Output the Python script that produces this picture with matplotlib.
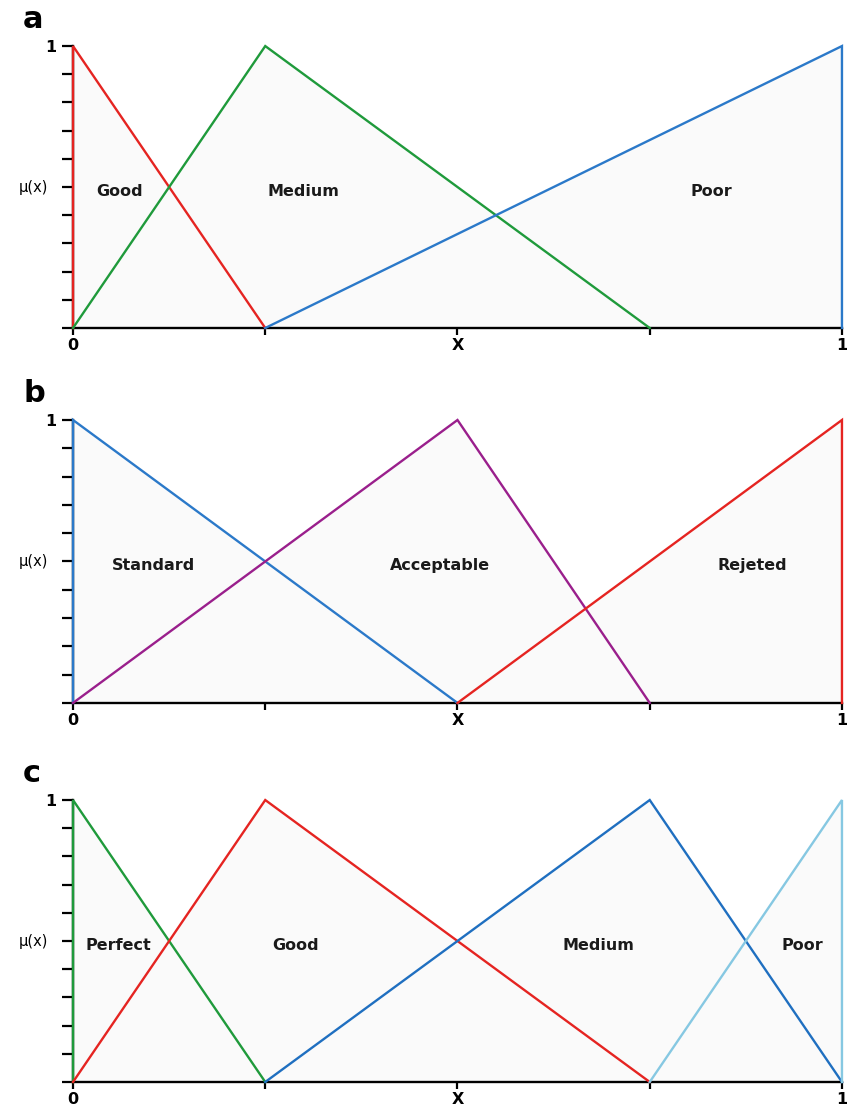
import matplotlib.pyplot as plt

plt.rcParams['font.family'] = ['DejaVu Sans']

# membership functions, one list per panel: (label, x vertices, y vertices, colour)
panel_a_names = ['Good', 'Medium', 'Poor']
panel_a_x = [[0, 0, 0.25], [0, 0.25, 0.75], [0.25, 1, 1]]
panel_a_y = [[0, 1, 0], [0, 1, 0], [0, 1, 0]]
panel_a_colors = ['#e52421', '#1f9a3b', '#2b79c9']
panel_a_text_x = [0.061, 0.30, 0.83]

panel_b_names = ['Standard', 'Acceptable', 'Rejeted']
panel_b_x = [[0, 0, 0.5], [0, 0.5, 0.75], [0.5, 1, 1]]
panel_b_y = [[0, 1, 0], [0, 1, 0], [0, 1, 0]]
panel_b_colors = ['#2b79c9', '#9a1f8c', '#e52421']
panel_b_text_x = [0.105, 0.477, 0.884]

panel_c_names = ['Perfect', 'Good', 'Medium', 'Poor']
panel_c_x = [[0, 0, 0.25], [0, 0.25, 0.75], [0.25, 0.75, 1], [0.75, 1, 1]]
panel_c_y = [[0, 1, 0], [0, 1, 0], [0, 1, 0], [0, 1, 0]]
panel_c_colors = ['#1f9a3b', '#e52421', '#1f6fc0', '#86c8e2']
panel_c_text_x = [0.059, 0.289, 0.683, 0.948]

x_ticks = [0, 0.25, 0.5, 0.75, 1]
x_ticklabels = ['0', '', 'X', '', '1']
y_ticks = [i / 10 for i in range(11)]
y_ticklabels = ['' for _ in y_ticks]
y_ticklabels[10] = '1'
y_name = 'μ(x)'

panels = [
    ('a', panel_a_names, panel_a_x, panel_a_y, panel_a_colors, panel_a_text_x),
    ('b', panel_b_names, panel_b_x, panel_b_y, panel_b_colors, panel_b_text_x),
    ('c', panel_c_names, panel_c_x, panel_c_y, panel_c_colors, panel_c_text_x),
]

# axes boxes in figure fractions (left, bottom, width, height)
boxes = [
    [0.0853, 0.7037, 0.8983, 0.2547],
    [0.0853, 0.3650, 0.8983, 0.2556],
    [0.0853, 0.0226, 0.8983, 0.2547],
]

fig = plt.figure(figsize=(8.56, 11.07), dpi=100)

for (letter, names, xs, ys, colors, text_x), box in zip(panels, boxes):
    ax = fig.add_axes(box)
    ax.set_xlim(0, 1)
    ax.set_ylim(0, 1)

    # light grey area under the membership functions
    for px, py in zip(xs, ys):
        ax.fill(px, py, color='#fafafa', zorder=1, lw=0)
    for px, py, c in zip(xs, ys, colors):
        ax.plot(px, py, color=c, lw=1.7, zorder=3, clip_on=False,
                solid_joinstyle='miter')

    for name, tx in zip(names, text_x):
        ax.text(tx, 0.485, name, ha='center', va='center', fontsize=11.5,
                fontweight='bold', color='#1a1a1a', zorder=4)

    for side in ['top', 'right']:
        ax.spines[side].set_visible(False)
    ax.spines['left'].set_linewidth(1.7)
    ax.spines['bottom'].set_linewidth(1.7)
    ax.spines['left'].set_zorder(2)

    ax.set_yticks(y_ticks)
    ax.set_yticklabels(y_ticklabels)
    ax.set_xticks(x_ticks)
    ax.set_xticklabels(x_ticklabels)
    ax.tick_params(axis='y', length=8, width=1.6, pad=4)
    ax.tick_params(axis='x', length=5, width=1.6, pad=2)
    for lbl in ax.get_xticklabels():
        lbl.set_fontsize(11.5)
        lbl.set_fontweight('bold')
    for lbl in ax.get_yticklabels():
        lbl.set_fontsize(11.5)
        lbl.set_fontweight('bold')

    # axis name sits further out than the tick labels
    ax.text(-0.033, 0.5, y_name, transform=ax.transAxes, ha='right',
            va='center', fontsize=10.5)

    bb = ax.get_position()
    fig.text(0.027, bb.y1 + 0.024, letter, fontsize=22, fontweight='bold',
             ha='left', va='center')

fig.savefig('out.png', dpi=100, facecolor='white')
